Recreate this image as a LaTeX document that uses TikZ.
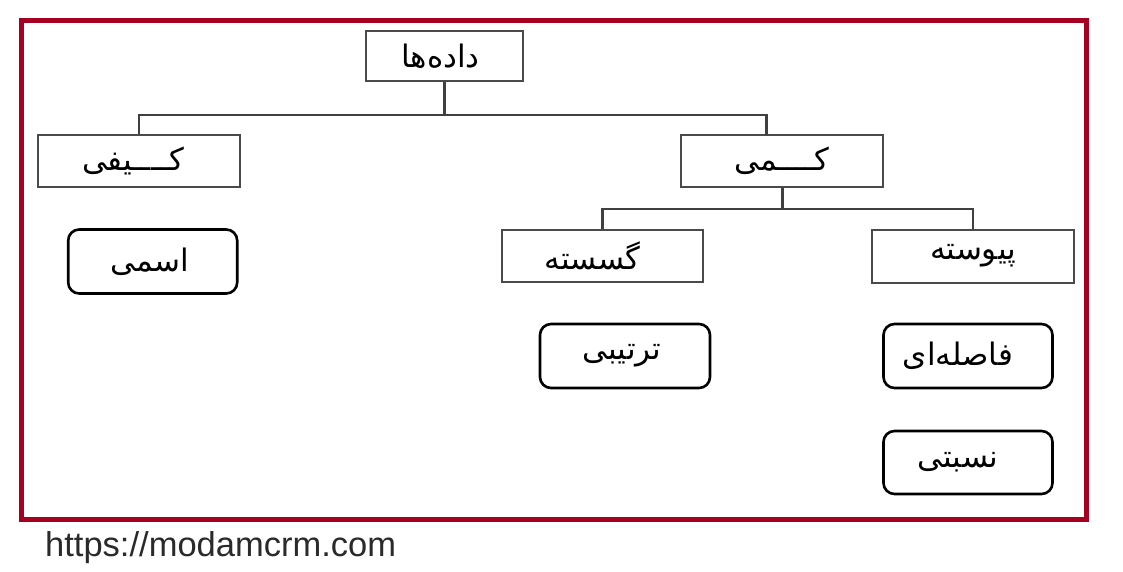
\documentclass[tikz,border=0pt]{standalone}
\usepackage{fontspec}
\setmainfont{Liberation Sans}
\newfontfamily\fa[Script=Arabic]{DejaVu Sans}
\TeXXeTstate=1
\definecolor{framec}{HTML}{A50021}
\definecolor{connc}{HTML}{404040}
\definecolor{boxc}{HTML}{4A4A4A}
\definecolor{urlc}{HTML}{2A2A2A}
\newcommand{\padr}[1]{\rule{#1}{0pt}}
\begin{document}
\begin{tikzpicture}[x=1pt,y=-1pt,
  sq/.style={draw=boxc,line width=2pt,fill=white,inner sep=0pt,
    font=\fa\fontsize{31}{31}\selectfont},
  rnd/.style={draw=black,line width=2.6pt,rounded corners=11pt,fill=white,inner sep=0pt,
    font=\fa\fontsize{31}{31}\selectfont},
  conn/.style={draw=connc,line width=2.4pt}]
\fill[white] (0,0) rectangle (1123,572);
\useasboundingbox (0,0) rectangle (1123,572);
\draw[framec,line width=5pt] (21.5,21) rectangle (1086,519);

\node[sq,minimum width=157pt,minimum height=50pt] (root) at (444.5,56) {\beginR داده^^^^200cها\endR\padr{8pt}};
\node[sq,minimum width=202pt,minimum height=52pt] (kayfi) at (139,161) {\beginR کــــیفی\endR\padr{12pt}};
\node[sq,minimum width=202pt,minimum height=52pt] (kammi) at (782.3,161) {\beginR کــــمی\endR};
\node[sq,minimum width=201pt,minimum height=52pt] (gos) at (602.5,256) {\beginR گسسته\endR\padr{20pt}};
\node[sq,minimum width=202pt,minimum height=53pt] (pey) at (973,256) {\beginR پیوسته\endR};
\node[rnd,minimum width=169pt,minimum height=64pt] (esmi) at (152.7,261.5) {\beginR اسمی\endR\padr{6pt}};
\node[rnd,minimum width=170pt,minimum height=64pt] (tart) at (625,356) {\beginR ترتیبی\endR\padr{6pt}};
\node[rnd,minimum width=169pt,minimum height=64pt] (fas) at (968,356) {\beginR فاصله^^^^200cای\endR\padr{20pt}};
\node[rnd,minimum width=169pt,minimum height=63pt] (nes) at (968,462.5) {\beginR نسبتی\endR\padr{20pt}};

\coordinate (j1) at (444.5,115);
\coordinate (k1) at (766.5,135);
\coordinate (j2) at (782.3,209);
\draw[conn] (root.south) -- (j1);
\draw[conn] (kayfi.north) |- (j1) -| (k1);
\draw[conn] (kammi.south) -- (j2);
\draw[conn] (gos.north) |- (j2) -| (pey.north);

\node[anchor=base west,inner sep=0pt,text=urlc,font=\fontsize{34.5}{34.5}\selectfont] (url) at (45,556) {https://modamcrm.com};
\end{tikzpicture}
\end{document}
